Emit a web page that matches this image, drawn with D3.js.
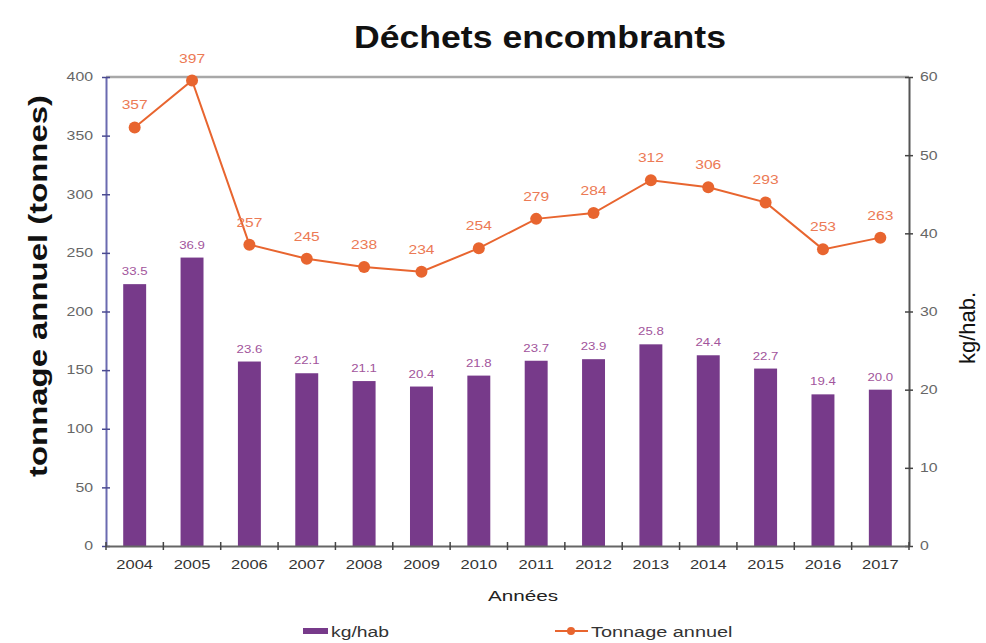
<!DOCTYPE html>
<html>
<head>
<meta charset="utf-8">
<script src="https://cdn.jsdelivr.net/npm/d3@7"></script>
<style>
  html, body { margin: 0; padding: 0; background: #fff; }
  svg { display: block; font-family: "Liberation Sans", Arial, Helvetica, sans-serif; }
</style>
</head>
<body>
<svg id="chart" width="986" height="643"></svg>
<script>
// ---- data ----
const years = ["2004","2005","2006","2007","2008","2009","2010","2011","2012","2013","2014","2015","2016","2017"];
const kgHab = [33.5, 36.9, 23.6, 22.1, 21.1, 20.4, 21.8, 23.7, 23.9, 25.8, 24.4, 22.7, 19.4, 20.0];
const tonnage = [357, 397, 257, 245, 238, 234, 254, 279, 284, 312, 306, 293, 253, 263];
const leftTicks = [0, 50, 100, 150, 200, 250, 300, 350, 400];
const rightTicks = [0, 10, 20, 30, 40, 50, 60];
const title = "Déchets encombrants";
const leftTitle = "tonnage annuel (tonnes)";
const rightTitle = "kg/hab.";
const xTitle = "Années";
const legendBar = "kg/hab";
const legendLine = "Tonnage annuel";

// ---- layout ----
const L = 106, R = 909, T = 77, B = 546;
const barColor = "#773a8a";
const lineColor = "#e8652f";
const barLabelColor = "#a2559c";
const lineLabelColor = "#ec7a55";
const SX = 1.32; // horizontal stretch of text

const svg = d3.select("#chart");

const x = d3.scaleBand().domain(years).range([L, R]).paddingInner(0.6).paddingOuter(0.3);
const yL = d3.scaleLinear().domain([0, 400]).range([B, T]);
const yR = d3.scaleLinear().domain([0, 60]).range([B, T]);

function stretchedText(g, tx, ty, str, opts) {
  return g.append("text")
    .attr("transform", `translate(${tx},${ty}) scale(${opts.sx || SX},1)`)
    .attr("text-anchor", opts.anchor || "middle")
    .attr("font-size", opts.size)
    .attr("font-weight", opts.weight || "normal")
    .attr("fill", opts.fill || "#333")
    .text(str);
}

// plot frame top border
svg.append("line").attr("x1", L).attr("x2", R).attr("y1", T).attr("y2", T)
  .attr("stroke", "#a8a8a8").attr("stroke-width", 2.5);

// bars (right axis)
svg.append("g").selectAll("rect").data(years).join("rect")
  .attr("x", d => x(d))
  .attr("width", x.bandwidth())
  .attr("y", (d, i) => yR(kgHab[i]))
  .attr("height", (d, i) => B - yR(kgHab[i]))
  .attr("fill", barColor);

// bar labels
const bl = svg.append("g");
years.forEach((d, i) => {
  stretchedText(bl, x(d) + x.bandwidth() / 2, yR(kgHab[i]) - 9, kgHab[i].toFixed(1),
    { size: 11.5, fill: barLabelColor, sx: 1.15 });
});

// left axis
const axL = svg.append("g").attr("transform", `translate(${L},0)`)
  .call(d3.axisLeft(yL).tickValues(leftTicks).tickSizeInner(4).tickSizeOuter(0).tickPadding(9));
axL.select(".domain").attr("stroke", "#6a6ab0").attr("stroke-width", 2);
axL.selectAll(".tick line").attr("x1", -4).attr("x2", 4).attr("stroke", "#4a4a90").attr("stroke-width", 1.5);
axL.selectAll(".tick text").attr("font-size", 12).attr("fill", "#666")
  .attr("font-family", "Liberation Sans, Arial, sans-serif")
  .attr("transform", `scale(${SX},1)`).attr("x", -13 / SX);

// right axis
const axR = svg.append("g").attr("transform", `translate(${R},0)`)
  .call(d3.axisRight(yR).tickValues(rightTicks).tickSizeInner(4).tickSizeOuter(0).tickPadding(9));
axR.select(".domain").attr("stroke", "#555").attr("stroke-width", 2);
axR.selectAll(".tick line").attr("x1", -4).attr("x2", 4).attr("stroke", "#444").attr("stroke-width", 1.5);
axR.selectAll(".tick text").attr("font-size", 12).attr("fill", "#666")
  .attr("font-family", "Liberation Sans, Arial, sans-serif")
  .attr("transform", `scale(${SX},1)`).attr("x", 11 / SX);

// bottom axis
const axB = svg.append("g").attr("transform", `translate(0,${B})`)
  .call(d3.axisBottom(x).tickSize(0).tickPadding(14));
axB.select(".domain").attr("stroke", "#666").attr("stroke-width", 2);
axB.selectAll(".tick text").attr("font-size", 12.5).attr("fill", "#333")
  .attr("font-family", "Liberation Sans, Arial, sans-serif")
  .attr("transform", `scale(${SX},1)`);
// category boundary ticks
const bounds = years.map(d => x(d) - x.step() * x.paddingInner() / 2).concat([R]);
svg.append("g").selectAll("line").data(bounds).join("line")
  .attr("x1", d => d).attr("x2", d => d).attr("y1", B - 4).attr("y2", B + 4)
  .attr("stroke", "#444").attr("stroke-width", 1.5);

// line (left axis)
const cx = d => x(d) + x.bandwidth() / 2;
const lineGen = d3.line().x((d, i) => cx(years[i])).y(d => yL(d));
svg.append("path").datum(tonnage).attr("d", lineGen)
  .attr("fill", "none").attr("stroke", lineColor).attr("stroke-width", 2);
svg.append("g").selectAll("circle").data(tonnage).join("circle")
  .attr("cx", (d, i) => cx(years[i])).attr("cy", d => yL(d)).attr("r", 6)
  .attr("fill", lineColor);
const ll = svg.append("g");
tonnage.forEach((v, i) => {
  stretchedText(ll, cx(years[i]), yL(v) - 18, String(v),
    { size: 12, fill: lineLabelColor, sx: 1.3 });
});

// title
svg.append("text").attr("x", 540).attr("y", 48).attr("text-anchor", "middle")
  .attr("font-size", 32).attr("font-weight", "bold").attr("fill", "#111")
  .attr("textLength", 372).attr("lengthAdjust", "spacingAndGlyphs")
  .text(title);

// left axis title
svg.append("text").attr("transform", "translate(47,286) rotate(-90)")
  .attr("text-anchor", "middle").attr("font-size", 25).attr("font-weight", "bold").attr("fill", "#111")
  .attr("textLength", 382).attr("lengthAdjust", "spacingAndGlyphs")
  .text(leftTitle);

// right axis title
svg.append("text").attr("transform", "translate(975,328) rotate(-90)")
  .attr("text-anchor", "middle").attr("font-size", 22).attr("fill", "#111")
  .text(rightTitle);

// x title
stretchedText(svg, 523, 601, xTitle, { size: 15, fill: "#222", sx: 1.38 });

// legend
svg.append("rect").attr("x", 303).attr("y", 628).attr("width", 25).attr("height", 6).attr("fill", barColor);
stretchedText(svg, 331, 637, legendBar, { size: 14, fill: "#333", anchor: "start", sx: 1.38 });
svg.append("line").attr("x1", 555).attr("x2", 588).attr("y1", 631).attr("y2", 631)
  .attr("stroke", lineColor).attr("stroke-width", 2);
svg.append("circle").attr("cx", 571).attr("cy", 631).attr("r", 4).attr("fill", lineColor);
stretchedText(svg, 591, 637, legendLine, { size: 14, fill: "#333", anchor: "start", sx: 1.42 });
</script>
</body>
</html>
